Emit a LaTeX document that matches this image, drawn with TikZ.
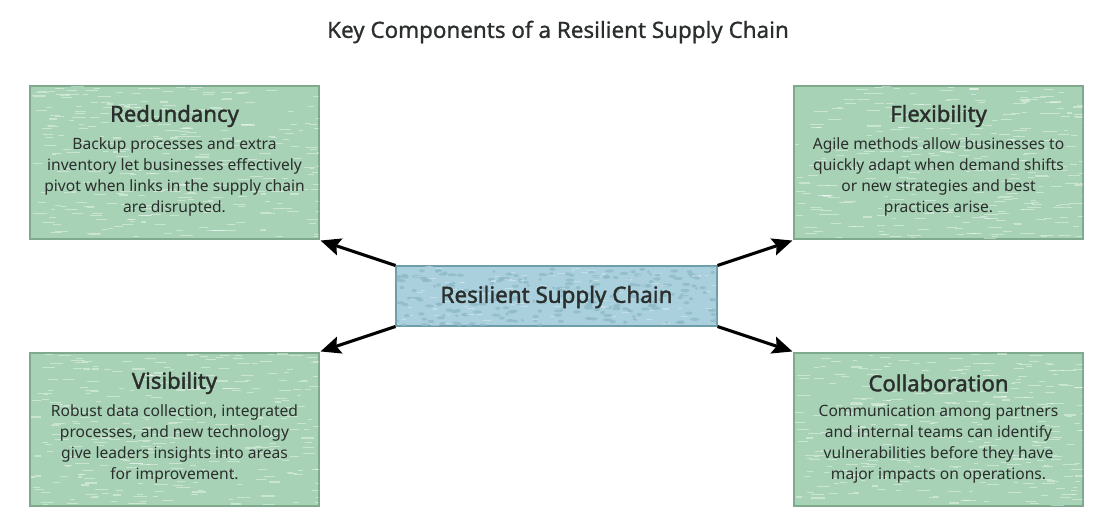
\documentclass[tikz,border=0pt]{standalone}
\usepackage{fontspec}
\setmainfont{Noto Sans}
\newfontfamily\semib[FakeBold=1.6]{Noto Sans}
\newfontfamily\medf[FakeBold=0.9]{Noto Sans}
\usetikzlibrary{arrows.meta}
\definecolor{gfill}{HTML}{A7D2B5}
\definecolor{gline}{HTML}{7FAA8E}
\definecolor{bfill}{HTML}{A9D0DC}
\definecolor{bline}{HTML}{6F9DAA}
\definecolor{bdot}{HTML}{8FBAC8}
\definecolor{txt}{HTML}{2A2E2C}
\newcommand{\greentex}[4]{%
  \begin{scope}
  \clip (#1,#2) rectangle (#3,#4);
  \foreach \k in {1,...,300}{%
    \pgfmathsetmacro\xx{#1+rnd*(#3-#1)}%
    \pgfmathsetmacro\yy{#2+rnd*(#4-#2)}%
    \pgfmathsetmacro\ll{4+rnd*10}%
    \draw[white,opacity=0.4,line width=0.8pt] (\xx,\yy) -- ++(\ll,0);
  }
  \end{scope}}
\newcommand{\bluetex}[4]{%
  \begin{scope}
  \clip (#1,#2) rectangle (#3,#4);
  \foreach \k in {1,...,220}{%
    \pgfmathsetmacro\xx{#1+rnd*(#3-#1)}%
    \pgfmathsetmacro\yy{#2+rnd*(#4-#2)}%
    \pgfmathsetmacro\ll{1.5+rnd*3.5}%
    \fill[bdot,opacity=0.8] (\xx,\yy) ellipse [x radius=\ll, y radius=1.6];
  }
  \foreach \k in {1,...,90}{%
    \pgfmathsetmacro\xx{#1+rnd*(#3-#1)}%
    \pgfmathsetmacro\yy{#2+rnd*(#4-#2)}%
    \pgfmathsetmacro\ll{3+rnd*6}%
    \draw[white,opacity=0.3,line width=0.8pt] (\xx,\yy) -- ++(\ll,0);
  }
  \end{scope}}
\begin{document}
\begin{tikzpicture}[x=0.75pt,y=-0.75pt,
  gbox/.style={fill=gfill,draw=gline,line width=0.8pt,minimum width=216.75pt,minimum height=114.75pt,inner sep=0pt},
  cbox/.style={fill=bfill,draw=bline,line width=0.8pt,minimum width=240.75pt,minimum height=45pt,inner sep=0pt},
  head/.style={text=txt,font=\semib\fontsize{16.6pt}{19pt}\selectfont,inner sep=0pt},
  body/.style={text=txt,font=\fontsize{11.7pt}{15.6pt}\selectfont,align=center,inner sep=0pt},
  conn/.style={-{Stealth[length=15pt,width=13pt,inset=2.5pt]},line width=2.3pt,black}]
\useasboundingbox (0,0) rectangle (1115,521);
\pgfmathsetseed{42}
\node[text=txt,font=\medf\fontsize{16.8pt}{19pt}\selectfont,inner sep=0pt] (title) at (558,32) {Key Components of a Resilient Supply Chain};
\node[gbox] (tl) at (174.5,162.5) {};
\node[gbox] (tr) at (938.5,162.5) {};
\node[gbox] (bl) at (174.5,429.5) {};
\node[gbox] (br) at (938.5,429.5) {};
\node[cbox] (c) at (556.5,296) {};
\greentex{30.5}{86.5}{318.5}{238.5}
\greentex{794.5}{86.5}{1082.5}{238.5}
\greentex{30.5}{353.5}{318.5}{505.5}
\greentex{794.5}{353.5}{1082.5}{505.5}
\bluetex{396.5}{266.5}{716.5}{325.5}
\draw[gline,line width=0.8pt] (tl.north west) rectangle (tl.south east);
\draw[gline,line width=0.8pt] (tr.north west) rectangle (tr.south east);
\draw[gline,line width=0.8pt] (bl.north west) rectangle (bl.south east);
\draw[gline,line width=0.8pt] (br.north west) rectangle (br.south east);
\draw[bline,line width=0.8pt] (c.north west) rectangle (c.south east);
\node[text=txt,font=\semib\fontsize{16.8pt}{19pt}\selectfont,inner sep=0pt] (ct) at (556.5,297) {Resilient Supply Chain};
\node[head] (tlh) at (174.5,116) {Redundancy};
\node[body] (tlb) at (174.5,177) {Backup processes and extra\\inventory let businesses effectively\\pivot when links in the supply chain\\are disrupted.};
\node[head] (trh) at (938.5,116) {Flexibility};
\node[body] (trb) at (938.5,177) {Agile methods allow businesses to\\quickly adapt when demand shifts\\or new strategies and best\\practices arise.};
\node[head] (blh) at (174.5,383) {Visibility};
\node[body] (blb) at (174.5,444) {Robust data collection, integrated\\processes, and new technology\\give leaders insights into areas\\for improvement.};
\node[head] (brh) at (938.5,383) {Collaboration};
\node[body] (brb) at (938.5,444) {Communication among partners\\and internal teams can identify\\vulnerabilities before they have\\major impacts on operations.};
\draw[conn] (c.north west) -- ([shift={(1,1)}]tl.south east);
\draw[conn] (c.north east) -- ([shift={(-1,1)}]tr.south west);
\draw[conn] (c.south west) -- ([shift={(1,-1)}]bl.north east);
\draw[conn] (c.south east) -- ([shift={(-1,-1)}]br.north west);
\end{tikzpicture}
\end{document}
